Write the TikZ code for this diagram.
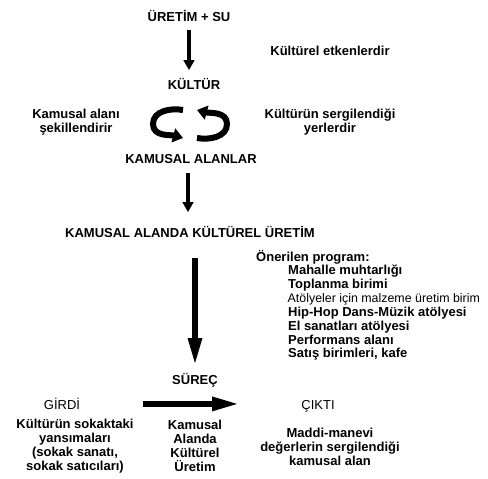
\documentclass[tikz,border=0pt]{standalone}
\usepackage{fontspec}
\setmainfont{Liberation Sans}
\usetikzlibrary{arrows.meta}
\tikzset{
  txt/.style={inner sep=0pt, font=\bfseries\fontsize{13}{13.9}\selectfont, align=center},
  thin txt/.style={txt, font=\mdseries\fontsize{13}{13.9}\selectfont},
  bigarrow/.style={line width=4.5pt, -{Triangle[length=10pt,width=10.5pt]}},
  longarrow/.style={line width=5.5pt, -{Triangle[length=27pt,width=13pt]}},
  turnarrow/.style={line width=6pt, -{Triangle[length=10pt,width=14pt]}}
}
\begin{document}
\begin{tikzpicture}[x=1pt,y=1pt]
  \useasboundingbox (0,0) rectangle (488,-479);
  \node [txt, anchor=base] (uretim) at (189,-21.5) {ÜRETİM + SU};
  \node [txt, anchor=base] (etken) at (330,-56) {Kültürel etkenlerdir};
  \node [txt, anchor=base] (kultur) at (194,-89.5) {KÜLTÜR};
  \node [txt] (sekil) at (76,-122) {Kamusal alanı\\şekillendirir};
  \node [txt] (sergi) at (330,-122) {Kültürün sergilendiği\\yerlerdir};
  \node [txt, anchor=base] (alanlar) at (191,-163.5) {KAMUSAL ALANLAR};
  \node [txt, anchor=base] (kaku) at (190,-237.5) {KAMUSAL ALANDA KÜLTÜREL ÜRETİM};
  \node [txt, anchor=base west] (program) at (256,-261.5) {Önerilen program:};
  \node [txt, anchor=base west] (p1) at (288,-274.5) {Mahalle muhtarlığı};
  \node [txt, anchor=base west] (p2) at (288,-288.4) {Toplanma birimi};
  \node [thin txt, font=\mdseries\fontsize{12.4}{13.9}\selectfont, anchor=base west] (p3) at (287.5,-302.3) {Atölyeler için malzeme üretim birim};
  \node [txt, anchor=base west] (p4) at (288,-316.2) {Hip-Hop Dans-Müzik atölyesi};
  \node [txt, anchor=base west] (p5) at (288,-330.1) {El sanatları atölyesi};
  \node [txt, anchor=base west] (p6) at (288,-344) {Performans alanı};
  \node [txt, anchor=base west] (p7) at (288,-357.9) {Satış birimleri, kafe};
  \node [txt, anchor=base] (surec) at (195,-384.5) {SÜREÇ};
  \node [thin txt, anchor=base] (girdi) at (62,-409.5) {GİRDİ};
  \node [thin txt, anchor=base] (cikti) at (318,-409.5) {ÇIKTI};
  \node [txt] (girditext) at (75,-446) {Kültürün sokaktaki\\yansımaları\\(sokak sanatı,\\sokak satıcıları)};
  \node [txt] (surectext) at (195,-446) {Kamusal\\Alanda\\Kültürel\\Üretim};
  \node [txt] (ciktitext) at (330,-446.5) {Maddi-manevi\\değerlerin sergilendiği\\kamusal alan};
  \draw [bigarrow, shorten <=8.5pt, shorten >=8pt] (uretim.south) -- (uretim.south |- kultur.north);
  \draw [turnarrow] (183,-110) to[out=170,in=90] (153,-124) to[out=-90,in=165] (183,-138);
  \draw [turnarrow] (197,-138) to[out=-10,in=-90] (227,-124) to[out=90,in=-15] (197,-110);
  \draw [bigarrow, shorten <=9.5pt, shorten >=14pt] ([xshift=-3pt]alanlar.south) -- ([xshift=-3pt]alanlar.south |- kaku.north);
  \draw [longarrow, shorten <=20.5pt, shorten >=8pt] (surec.north |- kaku.south) -- (surec.north);
  \draw [longarrow, shorten <=63pt, shorten >=62pt] (girdi.east) -- (girdi.east -| cikti.west);
\end{tikzpicture}
\end{document}
